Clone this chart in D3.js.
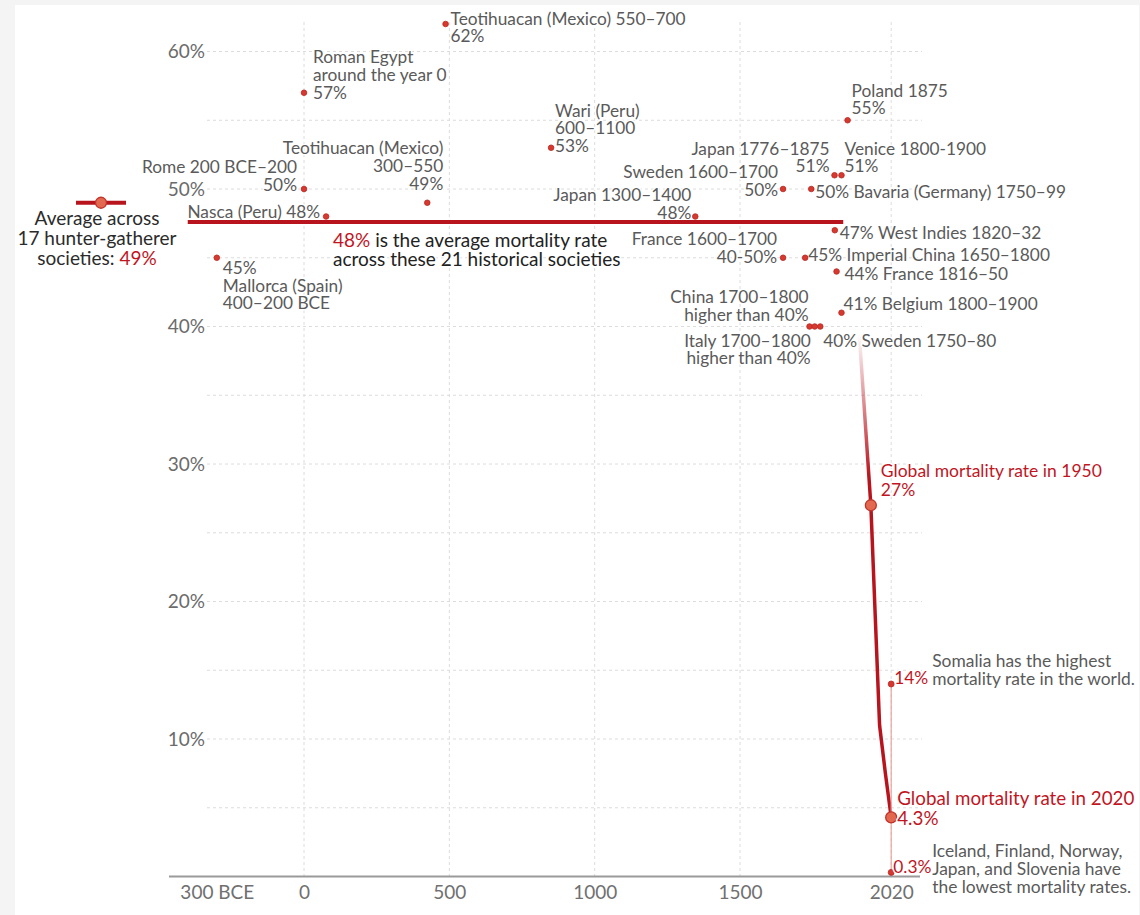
<!DOCTYPE html>
<html>
<head>
<meta charset="utf-8">
<script src="https://cdn.jsdelivr.net/npm/d3@7"></script>
<style>
  body { margin: 0; background: #f4f4f4; }
  svg { display: block; font-family: Lato, "Noto Sans", sans-serif; }
</style>
</head>
<body>
<svg id="chart" width="1140" height="915"></svg>
<script>
// ---- Data ---------------------------------------------------------------
// Historical societies: year plotted on the timeline and child mortality rate (%)
const societyYears = [0, 0, -300, 76, 424, 487, 850, 1346, 1648, 1648, 1745,
                      1825, 1849, 1870, 1826, 1724, 1832, 1849, 1739, 1757, 1776];
const societyRates = [57, 50, 45, 48, 49, 62, 53, 48, 50, 45, 50,
                      51, 51, 55, 47, 45, 44, 41, 40, 40, 40];
// Label lines for each society; "%v" is replaced by the rate
const societyLabels = [
  ["Roman Egypt", "around the year 0", "%v"],
  ["Rome 200 BCE–200", "%v"],
  ["%v", "Mallorca (Spain)", "400–200 BCE"],
  ["Nasca (Peru) %v"],
  ["Teotihuacan (Mexico)", "300–550", "%v"],
  ["Teotihuacan (Mexico) 550–700", "%v"],
  ["Wari (Peru)", "600–1100", "%v"],
  ["Japan 1300–1400", "%v"],
  ["Sweden 1600–1700", "%v"],
  ["France 1600–1700", "40-50%"],
  ["%v Bavaria (Germany) 1750–99"],
  ["Japan 1776–1875", "%v"],
  ["Venice 1800-1900", "%v"],
  ["Poland 1875", "%v"],
  ["%v West Indies 1820–32"],
  ["%v Imperial China 1650–1800"],
  ["%v France 1816–50"],
  ["%v Belgium 1800–1900"],
  ["China 1700–1800", "higher than %v"],
  ["Italy 1700–1800", "higher than %v"],
  ["%v Sweden 1750–80"]
];

// Global child mortality rate over the 20th and 21st century (%)
const globalYears = [1910, 1950, 1965, 1980, 2000, 2020];
const globalRates = [39.5, 27, 19, 11, 7.5, 4.3];

// Country extremes in 2020 (%)
const highestRate2020 = 14;    // Somalia
const lowestRate2020 = 0.3;    // Iceland, Finland, Norway, Japan, Slovenia

// Averages (%)
const hunterGathererAverage = 49;
const historicalAverage = 47.6;          // shown rounded in its label
const historicalAverageSpan = [-400, 1855];

// Axis ticks
const xTicks = [-300, 0, 500, 1000, 1500, 2020];
const yTicks = [10, 20, 30, 40, 50, 60];

// ---- Label placement (anchor, dx, dy of first line relative to the dot) --
const labelLayout = [
  ["start", 9, -36], ["end", -7, -22.3], ["start", 6, 9.5], ["end", -6, -5],
  ["end", 16, -55], ["start", 5, -6], ["start", 4, -37.75], ["end", -4, -22.2],
  ["end", -5, -17.3], ["end", -6, -19.5], ["start", 4, 2.7], ["end", -5, -27.25],
  ["start", 3, -27.25], ["start", 4, -30.25], ["start", 5, 2], ["start", 3, -3.7],
  ["start", 8, 1.8], ["start", 2, -9.5], ["end", -1, -29.8], ["end", -4, 13.5],
  ["start", 3, 13.5]
];

// ---- Setup --------------------------------------------------------------
const RED = "#b8141d";
const RED_TEXT = "#c1161f";
const GRAY_TEXT = "#5a5a5a";
const LH = 17.8;

const svg = d3.select("#chart");
svg.append("rect").attr("x", 15).attr("y", 5).attr("width", 1124).attr("height", 910).attr("fill", "#fff");

const x = d3.scaleLinear().domain([-300, 2020]).range([216.8, 891.2]);
const y = d3.scaleLinear().domain([0, 60]).range([876.5, 51.5]);
const fmt = v => `${v}%`;

// ---- Grid ---------------------------------------------------------------
const grid = svg.append("g").attr("stroke", "#dcdcdc").attr("stroke-dasharray", "3,3").attr("stroke-width", 1);
grid.selectAll("line.h").data(d3.range(5, 61, 5)).join("line")
  .attr("x1", 207).attr("x2", 922)
  .attr("y1", d => y(d)).attr("y2", d => y(d));
grid.selectAll("line.v").data(xTicks.filter(t => t >= 0)).join("line")
  .attr("x1", d => x(d)).attr("x2", d => x(d))
  .attr("y1", 22).attr("y2", y(0));

// ---- Axes ---------------------------------------------------------------
const yAxis = svg.append("g").attr("transform", "translate(207,0)")
  .call(d3.axisLeft(y).tickValues(yTicks).tickFormat(fmt).tickSize(0).tickPadding(2));
yAxis.select(".domain").remove();
yAxis.selectAll("text").attr("font-size", 19).attr("fill", "#6b6b6b").attr("font-family", "Lato");

const xAxis = svg.append("g").attr("transform", `translate(0,${y(0)})`)
  .call(d3.axisBottom(x).tickValues(xTicks)
    .tickFormat(d => d < 0 ? `${-d} BCE` : `${d}`).tickSize(0).tickPadding(9));
xAxis.select(".domain").remove();
xAxis.selectAll("text").attr("font-size", 19).attr("fill", "#707070").attr("font-family", "Lato");

svg.append("line").attr("x1", 169).attr("x2", 920).attr("y1", y(0)).attr("y2", y(0))
  .attr("stroke", "#9a9a9a").attr("stroke-width", 2);

// ---- Helper for multi-line text with a white halo -----------------------
function multiText(g, lines, px, py, anchor, lh, size, color) {
  const t = g.append("text")
    .attr("text-anchor", anchor).attr("font-size", size).attr("fill", color)
    .attr("stroke", "#fff").attr("stroke-width", 3).attr("stroke-linejoin", "round")
    .attr("paint-order", "stroke");
  lines.forEach((line, i) => {
    const ts = t.append("tspan").attr("x", px).attr("y", py + i * lh).attr("dominant-baseline", "central");
    if (Array.isArray(line)) {
      line.forEach(part => ts.append("tspan").attr("fill", part.color || color).text(part.text));
    } else {
      ts.text(line);
    }
  });
  return t;
}

// ---- Hunter-gatherer average marker ---------------------------------------
const hgY = y(hunterGathererAverage);
svg.append("line").attr("x1", 76).attr("x2", 126).attr("y1", hgY).attr("y2", hgY)
  .attr("stroke", RED).attr("stroke-width", 4);
svg.append("circle").attr("cx", 101).attr("cy", hgY).attr("r", 5.5)
  .attr("fill", "#e2694f").attr("stroke", "#c2332a").attr("stroke-width", 1.3);
multiText(svg, [
  "Average across",
  "17 hunter-gatherer",
  [{ text: "societies: " }, { text: fmt(hunterGathererAverage), color: RED_TEXT }]
], 97, hgY + 14.5, "middle", 20, 19, "#2b2b2b");

// ---- Global trend line ----------------------------------------------------
const globalData = globalYears.map((yr, i) => ({ year: yr, rate: globalRates[i] }));
const defs = svg.append("defs");
const grad = defs.append("linearGradient").attr("id", "fadeIn")
  .attr("gradientUnits", "userSpaceOnUse")
  .attr("x1", 0).attr("x2", 0).attr("y1", y(39.5)).attr("y2", y(29));
grad.append("stop").attr("offset", 0).attr("stop-color", RED).attr("stop-opacity", 0);
grad.append("stop").attr("offset", 1).attr("stop-color", RED).attr("stop-opacity", 1);

svg.append("path").datum(globalData)
  .attr("d", d3.line().x(d => x(d.year)).y(d => y(d.rate)))
  .attr("fill", "none").attr("stroke", "url(#fadeIn)").attr("stroke-width", 3.5)
  .attr("stroke-linejoin", "round");

// Range of country rates in 2020
svg.append("line").attr("x1", x(2020)).attr("x2", x(2020))
  .attr("y1", y(highestRate2020)).attr("y2", y(lowestRate2020))
  .attr("stroke", "#e9a49d").attr("stroke-width", 1.2);
svg.selectAll("circle.extreme").data([highestRate2020, lowestRate2020]).join("circle")
  .attr("cx", x(2020)).attr("cy", d => y(d)).attr("r", 3)
  .attr("fill", "#d4382f").attr("stroke", "#bb2a24").attr("stroke-width", 0.8);

// Highlighted global points
const keyPoints = [globalData[1], globalData[globalData.length - 1]];
svg.selectAll("circle.global").data(keyPoints).join("circle")
  .attr("cx", d => x(d.year)).attr("cy", d => y(d.rate)).attr("r", 5.5)
  .attr("fill", "#e2694f").attr("stroke", "#c2332a").attr("stroke-width", 1.3);

const p1950 = keyPoints[0], p2020 = keyPoints[1];
multiText(svg, [`Global mortality rate in ${p1950.year}`, fmt(p1950.rate)],
  x(p1950.year) + 10, y(p1950.rate) - 34.5, "start", 18.3, 17.5, RED_TEXT);
multiText(svg, [`Global mortality rate in ${p2020.year}`, fmt(p2020.rate)],
  x(p2020.year) + 6, y(p2020.rate) - 20, "start", 20, 18.8, RED_TEXT);

multiText(svg, [fmt(highestRate2020)], x(2020) + 3, y(highestRate2020) - 6.3, "start", LH, 17.4, RED_TEXT);
multiText(svg, ["Somalia has the highest", "mortality rate in the world."],
  x(2020) + 41, y(highestRate2020) - 23.3, "start", LH, 17.4, GRAY_TEXT);
multiText(svg, [fmt(lowestRate2020)], x(2020) + 2, y(lowestRate2020) - 5.4, "start", LH, 17.4, RED_TEXT);
multiText(svg, ["Iceland, Finland, Norway,", "Japan, and Slovenia have", "the lowest mortality rates."],
  x(2020) + 41, y(lowestRate2020) - 21.7, "start", LH, 17.4, GRAY_TEXT);

// ---- Historical society labels ---------------------------------------------
const societies = societyYears.map((yr, i) => ({
  year: yr, rate: societyRates[i], lines: societyLabels[i], layout: labelLayout[i]
}));

const labelG = svg.append("g");
societies.forEach(s => {
  const [anchor, dx, dy] = s.layout;
  const lines = s.lines.map(l => l.replace("%v", fmt(s.rate)));
  multiText(labelG, lines, x(s.year) + dx, y(s.rate) + dy, anchor, LH, 17.3, GRAY_TEXT);
});

// ---- Historical average line ------------------------------------------------
svg.append("line")
  .attr("x1", x(historicalAverageSpan[0])).attr("x2", x(historicalAverageSpan[1]))
  .attr("y1", y(historicalAverage)).attr("y2", y(historicalAverage))
  .attr("stroke", RED).attr("stroke-width", 4);

multiText(svg, [
  [{ text: fmt(Math.round(historicalAverage)), color: RED_TEXT }, { text: " is the average mortality rate" }],
  [{ text: `across these ${societyRates.length} historical societies` }]
], 333, y(historicalAverage) + 17, "start", 19, 19, "#222");

// ---- Historical society points ----------------------------------------------
svg.append("g").selectAll("circle").data(societies).join("circle")
  .attr("cx", d => x(d.year)).attr("cy", d => y(d.rate)).attr("r", 2.8)
  .attr("fill", "#d6392f").attr("stroke", "#b9271f").attr("stroke-width", 0.8);
</script>
</body>
</html>
